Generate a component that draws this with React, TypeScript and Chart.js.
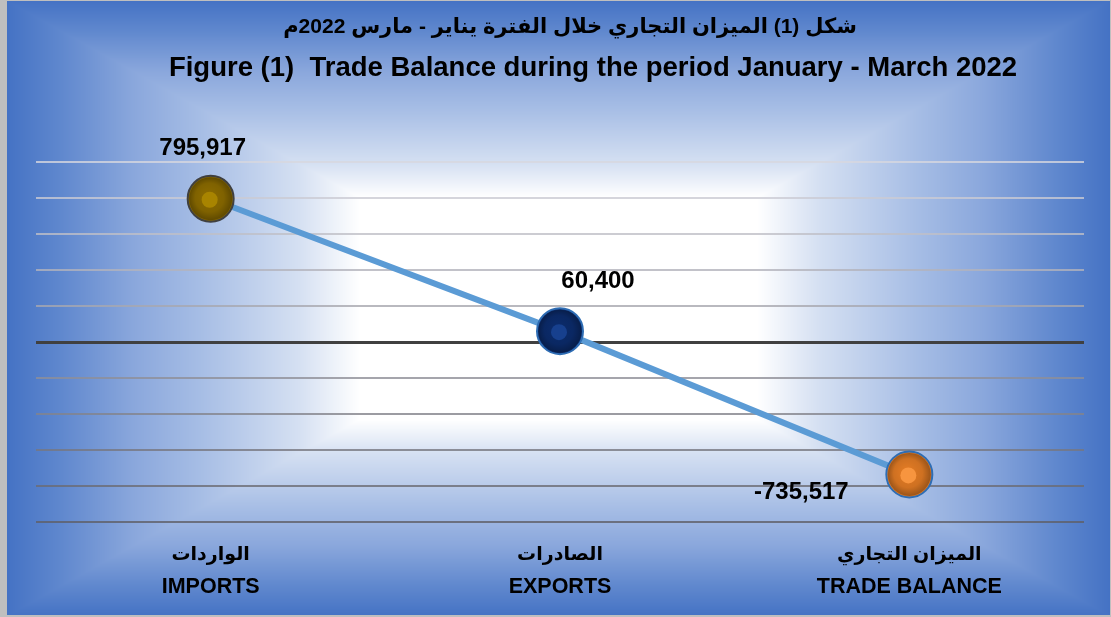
import React, { useEffect, useRef } from 'react';
import { Chart, registerables } from 'chart.js';

Chart.register(...registerables);

const TITLE_AR = 'شكل (1) الميزان التجاري خلال الفترة يناير - مارس 2022م';
const TITLE_EN = 'Figure (1)  Trade Balance during the period January - March 2022';
const CATEGORIES_AR = ['الواردات', 'الصادرات', 'الميزان التجاري'];
const CATEGORIES_EN = ['IMPORTS', 'EXPORTS', 'TRADE BALANCE'];
const VALUES = [795917, 60400, -735517];
const Y_MIN = -1000000;
const Y_MAX = 1000000;
const Y_STEP = 200000;

const POINT_COLORS = ['#8A6A00', '#0B2B6B', '#E07A24'];
const POINT_BORDERS = ['#404040', '#2E6DB4', '#2E6DB4'];
const POINT_HIGHLIGHTS = ['#A88400', '#17408E', '#F7953F'];
const LABEL_OFFSETS = [[-8, -50], [38, -50], [-108, 18]];

const FONT = "'Liberation Sans', 'DejaVu Sans', Arial, sans-serif";
const rtl = (s: string) => '\u202B' + s + '\u202C';

const bgPlugin = {
  id: 'bgGradient',
  beforeDraw(chart: any) {
    const { ctx, width, height } = chart;
    if (!chart.$bgImg) {
      const img = ctx.createImageData(width, height);
      const cx = 558, cy = 308, hw = 552, hh = 308;
      const stops = [
        [0, 255, 255, 255],
        [0.36, 255, 255, 255],
        [0.47, 213, 224, 242],
        [0.65, 166, 189, 229],
        [0.77, 138, 167, 220],
        [0.9, 96, 136, 206],
        [1, 68, 114, 196],
      ];
      for (let y = 0; y < height; y++) {
        for (let x = 0; x < width; x++) {
          const t = Math.min(1, Math.max(Math.abs(x - cx) / hw, Math.abs(y - cy) / hh));
          let k = 1;
          while (k < stops.length - 1 && stops[k][0] < t) k++;
          const a = stops[k - 1], b = stops[k];
          const f = b[0] === a[0] ? 0 : Math.max(0, Math.min(1, (t - a[0]) / (b[0] - a[0])));
          const i = (y * width + x) * 4;
          img.data[i] = a[1] + (b[1] - a[1]) * f;
          img.data[i + 1] = a[2] + (b[2] - a[2]) * f;
          img.data[i + 2] = a[3] + (b[3] - a[3]) * f;
          img.data[i + 3] = 255;
        }
      }
      chart.$bgImg = img;
    }
    ctx.putImageData(chart.$bgImg, 0, 0);
    ctx.save();
    ctx.fillStyle = '#BFBFBF';
    ctx.fillRect(0, 0, 7, height);
    ctx.fillRect(0, 0, width, 1);
    ctx.fillRect(0, height - 2, width, 2);
    ctx.fillRect(width - 1, 0, 1, height);
    ctx.restore();
  },
};

const titlePlugin = {
  id: 'twoLineTitle',
  afterDraw(chart: any) {
    const { ctx } = chart;
    ctx.save();
    ctx.fillStyle = '#000000';
    ctx.textAlign = 'center';
    ctx.textBaseline = 'middle';
    ctx.font = `bold 21px ${FONT}`;
    ctx.fillText(rtl(TITLE_AR), 570, 27);
    ctx.font = `bold 27.5px ${FONT}`;
    ctx.fillText(TITLE_EN, 593, 68);
    ctx.restore();
  },
};

const markerPlugin = {
  id: 'markersAndLabels',
  afterDatasetsDraw(chart: any) {
    const { ctx } = chart;
    const meta = chart.getDatasetMeta(0);
    ctx.save();
    meta.data.forEach((pt: any, i: number) => {
      const { x, y } = pt;
      const g = ctx.createRadialGradient(x - 3, y - 3, 3, x, y, 22);
      g.addColorStop(0, 'rgba(0,0,0,0)');
      g.addColorStop(0.6, 'rgba(0,0,0,0.08)');
      g.addColorStop(1, 'rgba(0,0,0,0.32)');
      ctx.beginPath();
      ctx.arc(x, y, 21.5, 0, Math.PI * 2);
      ctx.fillStyle = g;
      ctx.fill();
      ctx.beginPath();
      ctx.arc(x - 1, y + 1, 8, 0, Math.PI * 2);
      ctx.fillStyle = POINT_HIGHLIGHTS[i];
      ctx.fill();

      const [dx, dy] = LABEL_OFFSETS[i];
      ctx.font = `bold 24px ${FONT}`;
      ctx.fillStyle = '#000000';
      ctx.textAlign = 'center';
      ctx.textBaseline = 'middle';
      ctx.fillText(VALUES[i].toLocaleString('en-US'), x + dx, y + dy);
    });
    ctx.restore();
  },
};

export default function App() {
  const ref = useRef<HTMLCanvasElement>(null);

  useEffect(() => {
    if (!ref.current) return;
    const chart = new Chart(ref.current, {
      type: 'line',
      data: {
        labels: CATEGORIES_AR.map((a) => rtl(a)),
        datasets: [
          {
            data: VALUES,
            borderColor: '#5B9BD5',
            borderWidth: 6,
            pointRadius: 23,
            pointHoverRadius: 23,
            pointBorderWidth: 2,
            pointBackgroundColor: POINT_COLORS,
            pointBorderColor: POINT_BORDERS,
            tension: 0,
          },
        ],
      },
      options: {
        responsive: false,
        animation: false,
        events: [],
        layout: { padding: { left: 36, right: 27, top: 162, bottom: 0 } },
        plugins: {
          legend: { display: false },
          tooltip: { enabled: false },
          title: { display: false },
        },
        scales: {
          x: {
            type: 'category',
            position: 'bottom',
            weight: 0,
            offset: true,
            grid: { display: false, drawTicks: false },
            border: { display: false },
            ticks: {
              color: '#000000',
              font: { family: FONT, size: 19, weight: 'bold', lineHeight: 1.2 },
              padding: 21.6,
              maxRotation: 0,
              autoSkip: false,
            },
            afterFit: (s: any) => {
              s.height = 47;
            },
          },
          x2: {
            type: 'category',
            position: 'bottom',
            weight: 1,
            offset: true,
            labels: CATEGORIES_EN,
            grid: { display: false, drawTicks: false },
            border: { display: false },
            ticks: {
              color: '#000000',
              font: { family: FONT, size: 21.5, weight: 'bold', lineHeight: 1.2 },
              padding: 5,
              maxRotation: 0,
              autoSkip: false,
            },
            afterFit: (s: any) => {
              s.height = 48;
            },
          },
          y: {
            min: Y_MIN,
            max: Y_MAX,
            ticks: { display: false, stepSize: Y_STEP },
            border: { display: false },
            grid: {
              drawTicks: false,
              color: (c: any) => {
                if (c.tick && c.tick.value === 0) return '#404040';
                const idx = c.index ?? 0;
                const frac = idx / 10;
                const g = Math.round(95 + 120 * frac);
                return `rgba(${g},${g},${g + 8},0.8)`;
              },
              lineWidth: (c: any) => (c.tick && c.tick.value === 0 ? 3 : 2),
            },
            afterFit: (s: any) => {
              s.width = 0;
            },
          },
        },
      },
      plugins: [bgPlugin, markerPlugin, titlePlugin],
    } as any);
    return () => chart.destroy();
  }, []);

  return (
    <div style={{ position: 'absolute', left: 0, top: 0, width: 1111, height: 617 }}>
      <canvas ref={ref} width={1111} height={617} style={{ display: 'block' }} />
    </div>
  );
}
